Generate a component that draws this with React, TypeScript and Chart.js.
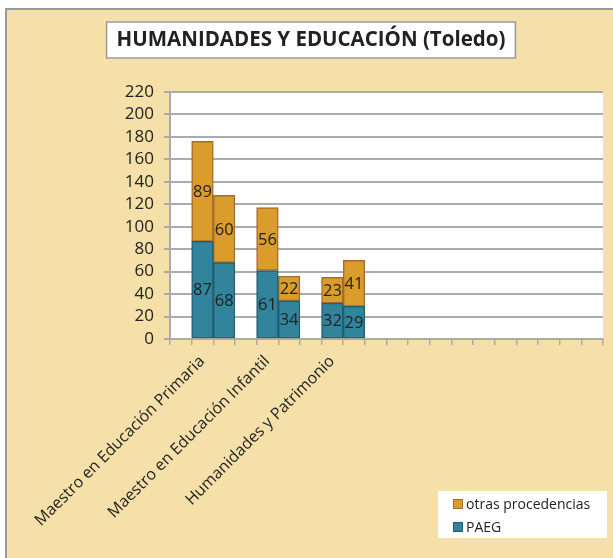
import React, { useEffect, useRef } from "react";
import { Chart, registerables } from "chart.js";
Chart.register(...registerables);

const TITLE = "HUMANIDADES Y EDUCACIÓN (Toledo)";
const CATEGORIES = [
  "Maestro en Educación Primaria",
  "Maestro en Educación Infantil",
  "Humanidades y Patrimonio",
];
const BARS_PER_CATEGORY = 2;
const SLOTS_PER_CATEGORY = 3;
const X_SLOTS = 20;
const PAEG = [87, 68, 61, 34, 32, 29];
const OTRAS = [89, 60, 56, 22, 23, 41];
const SERIES_PAEG = "PAEG";
const SERIES_OTRAS = "otras procedencias";
const Y_MIN = 0;
const Y_MAX = 220;
const Y_STEP = 20;

const TEAL = "#31849B";
const TEAL_BORDER = "#22606F";
const ORANGE = "#DA9C2B";
const ORANGE_BORDER = "#A36C30";
const BG = "#F4E0A8";
const GRID = "#ABABAB";
const TEXT = "#222222";
const FONT = "'Open Sans', 'DejaVu Sans', sans-serif";

const slotOf = (k: number) =>
  Math.floor(k / BARS_PER_CATEGORY) * SLOTS_PER_CATEGORY + (k % BARS_PER_CATEGORY) + 1.5;
const labelAt = (v: number) => {
  const i = (v - 2) / SLOTS_PER_CATEGORY;
  return Number.isInteger(i) && i >= 0 && i < CATEGORIES.length ? CATEGORIES[i] : "";
};

const framePlugin = {
  id: "frame",
  beforeDraw(chart: any) {
    const { ctx, width, height, chartArea } = chart;
    ctx.save();
    ctx.fillStyle = "#ffffff";
    ctx.fillRect(0, 0, width, height);
    ctx.fillStyle = BG;
    ctx.fillRect(6, 9, width - 6, height - 9);
    ctx.strokeStyle = "#9a9a9a";
    ctx.lineWidth = 2;
    ctx.beginPath();
    ctx.moveTo(6, height);
    ctx.lineTo(6, 9);
    ctx.lineTo(width, 9);
    ctx.stroke();
    ctx.fillStyle = "#ffffff";
    ctx.fillRect(chartArea.left, chartArea.top, chartArea.right - chartArea.left, chartArea.bottom - chartArea.top);
    ctx.restore();
  },
  afterDraw(chart: any) {
    const { ctx } = chart;
    ctx.save();
    ctx.font = `bold 20.5px ${FONT}`;
    const tw = ctx.measureText(TITLE).width;
    const cx = 311;
    const bx = cx - tw / 2 - 10;
    const bw = tw + 20;
    ctx.fillStyle = "#ffffff";
    ctx.fillRect(bx, 22, bw, 36);
    ctx.strokeStyle = "#9a9a9a";
    ctx.lineWidth = 1.5;
    ctx.strokeRect(bx, 22, bw, 36);
    ctx.fillStyle = TEXT;
    ctx.textAlign = "center";
    ctx.textBaseline = "middle";
    ctx.fillText(TITLE, cx, 40);

    const lx = 438, ly = 491, lw = 169, lh = 47;
    ctx.fillStyle = "#ffffff";
    ctx.fillRect(lx, ly, lw, lh);
    const items = [
      { text: SERIES_OTRAS, fill: ORANGE, stroke: ORANGE_BORDER, y: 504 },
      { text: SERIES_PAEG, fill: TEAL, stroke: TEAL_BORDER, y: 527 },
    ];
    ctx.font = `14px ${FONT}`;
    ctx.textAlign = "left";
    items.forEach((it) => {
      ctx.fillStyle = it.fill;
      ctx.fillRect(453, it.y - 5, 10, 10);
      ctx.strokeStyle = it.stroke;
      ctx.lineWidth = 1;
      ctx.strokeRect(453.5, it.y - 4.5, 9, 9);
      ctx.fillStyle = TEXT;
      ctx.fillText(it.text, 466, it.y + 1);
    });
    ctx.restore();
  },
  afterDatasetsDraw(chart: any) {
    const { ctx } = chart;
    ctx.save();
    ctx.font = `16.5px ${FONT}`;
    ctx.fillStyle = TEXT;
    ctx.textAlign = "center";
    ctx.textBaseline = "middle";
    chart.data.datasets.forEach((ds: any, di: number) => {
      const meta = chart.getDatasetMeta(di);
      meta.data.forEach((el: any, i: number) => {
        const { x, y, base } = el.getProps(["x", "y", "base"], true);
        ctx.fillText(String(ds.data[i].y), x, (y + base) / 2 + 1);
      });
    });
    ctx.restore();
  },
};

export default function App() {
  const ref = useRef<HTMLCanvasElement>(null);
  useEffect(() => {
    if (!ref.current) return;
    const chart = new Chart(ref.current, {
      type: "bar",
      data: {
        datasets: [
          {
            label: SERIES_PAEG,
            data: PAEG.map((v, k) => ({ x: slotOf(k), y: v })),
            backgroundColor: TEAL,
            borderColor: TEAL_BORDER,
            borderWidth: 1.5,
            borderSkipped: false,
            barPercentage: 1,
            categoryPercentage: 1,
          },
          {
            label: SERIES_OTRAS,
            data: OTRAS.map((v, k) => ({ x: slotOf(k), y: v })),
            backgroundColor: ORANGE,
            borderColor: ORANGE_BORDER,
            borderWidth: 1.5,
            borderSkipped: false,
            barPercentage: 1,
            categoryPercentage: 1,
          },
        ],
      },
      options: {
        responsive: false,
        animation: false,
        devicePixelRatio: 1,
        layout: { padding: { left: 110, right: 10, top: 92, bottom: 19 } },
        plugins: {
          legend: { display: false },
          title: { display: false },
          tooltip: { enabled: false },
        },
        scales: {
          x: {
            type: "linear",
            stacked: true,
            offset: false,
            min: 0,
            max: X_SLOTS,
            afterFit: (s: any) => {
              s.height = 200;
              s.paddingLeft = 0;
              s.paddingRight = 0;
            },
            grid: {
              offset: false,
              drawOnChartArea: false,
              drawTicks: true,
              tickLength: 6,
              color: GRID,
              lineWidth: 1.5,
            },
            border: { display: true, color: GRID, width: 2 },
            ticks: {
              stepSize: 1,
              autoSkip: false,
              minRotation: 45,
              maxRotation: 45,
              labelOffset: -11,
              padding: 7,
              color: TEXT,
              font: { family: FONT, size: 16 },
              callback: (v: any) => labelAt(Number(v)),
            },
          },
          y: {
            stacked: true,
            min: Y_MIN,
            max: Y_MAX,
            afterFit: (s: any) => {
              s.width = 60;
            },
            grid: { color: GRID, lineWidth: 2, tickLength: 6, drawTicks: true },
            border: { display: true, color: GRID, width: 2 },
            ticks: {
              stepSize: Y_STEP,
              autoSkip: false,
              padding: 10,
              color: TEXT,
              font: { family: FONT, size: 17 },
            },
          },
        },
      },
      plugins: [framePlugin],
    });
    return () => chart.destroy();
  }, []);
  return (
    <div style={{ position: "fixed", left: 0, top: 0, width: 613, height: 558 }}>
      <canvas ref={ref} width={613} height={558} />
    </div>
  );
}
